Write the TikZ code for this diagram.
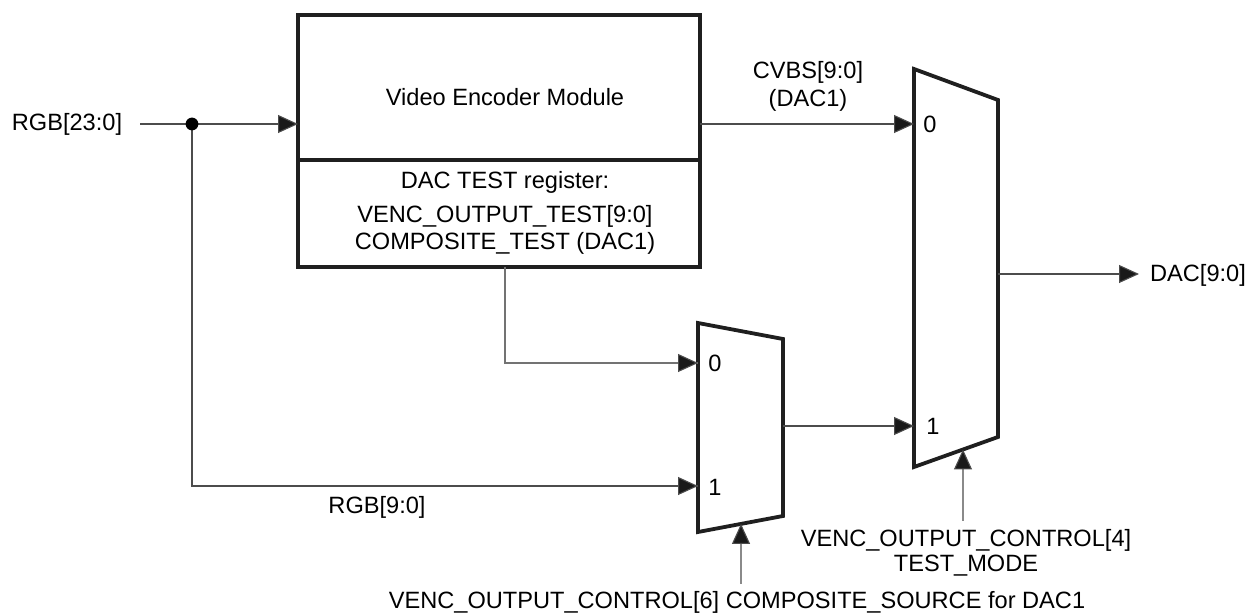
\documentclass[tikz,border=0pt]{standalone}
\usepackage{fontspec}
\setmainfont{Liberation Sans}
\usetikzlibrary{arrows.meta,calc}
\begin{document}
\begin{tikzpicture}[x=0.5pt,y=-0.5pt,
  lbl/.style={inner sep=0pt,font=\fontsize{11.8}{13.5}\selectfont},
  thick box/.style={line width=1.9pt,draw=black!88},
  sig/.style={line width=0.55pt,draw=black!70,-{Triangle[length=10pt,width=9pt,fill=black!90]}},
  wire/.style={line width=0.55pt,draw=black!70},
  wirelight/.style={line width=0.55pt,draw=black!55}]
\useasboundingbox (0,0) rectangle (1249,614);
% video encoder box
\coordinate (vtl) at (298,15);
\coordinate (vbr) at (700,267);
\coordinate (vdl) at (298,160);
\coordinate (vdr) at (700,160);
\draw[thick box] (vtl) rectangle (vbr);
\draw[thick box] (vdl) -- (vdr);
\node[lbl] (vname) at (505,97) {Video Encoder Module};
\node[lbl] (reg1) at (505,182) {DAC TEST register:};
\node[lbl] (reg2) at (505,216) {VENC\_OUTPUT\_TEST[9:0]};
\node[lbl] (reg3) at (505,243) {COMPOSITE\_TEST (DAC1)};
% big mux
\coordinate (m1tl) at (914,69);
\coordinate (m1tr) at (998,100);
\coordinate (m1br) at (998,437);
\coordinate (m1bl) at (914,467);
\draw[thick box,line join=miter] (m1tl) -- (m1tr) -- (m1br) -- (m1bl) -- cycle;
\node[lbl] (m1zero) at (930,124) {0};
\node[lbl] (m1one) at (933,426) {1};
% small mux
\coordinate (m2tl) at (698,323);
\coordinate (m2tr) at (783,339);
\coordinate (m2br) at (783,516);
\coordinate (m2bl) at (698,532);
\draw[thick box,line join=miter] (m2tl) -- (m2tr) -- (m2br) -- (m2bl) -- cycle;
\node[lbl] (m2zero) at (715,363) {0};
\node[lbl] (m2one) at (715,487) {1};
% labels
\node[lbl] (rgbin) at (67,124) {RGB[23:0]};
\node[lbl] (cvbs1) at (808,72) {CVBS[9:0]};
\node[lbl] (cvbs2) at (808,100) {(DAC1)};
\node[lbl] (dac) at (1198,275) {DAC[9:0]};
\node[lbl] (rgb9) at (377,507) {RGB[9:0]};
\node[lbl] (ctl4a) at (966,540) {VENC\_OUTPUT\_CONTROL[4]};
\node[lbl] (ctl4b) at (966,566) {TEST\_MODE};
\node[lbl] (ctl6) at (737,602) {VENC\_OUTPUT\_CONTROL[6] COMPOSITE\_SOURCE for DAC1};
% connection points
\coordinate (rgbstart) at (140,124);
\coordinate (vin) at (298,124);
\coordinate (split) at (192,124);
\coordinate (vout) at (700,124);
\coordinate (m1in0) at (914,124);
\coordinate (m1in1) at (914,426);
\coordinate (m1out) at (998,274);
\coordinate (dacend) at (1139,274);
\coordinate (vreg) at (505,267);
\coordinate (m2in0) at (698,363);
\coordinate (m2in1) at (698,486);
\coordinate (m2out) at (783,426);
\coordinate (c4start) at (963,521);
\coordinate (c4end) at ($(m1bl)!{(963-914)/84}!(m1br)$);
\coordinate (c6start) at (741,584);
\coordinate (c6end) at ($(m2bl)!{(741-698)/85}!(m2br)$);
% connectors
\draw[sig] (rgbstart) -- (vin);
\draw[wire] (split) |- (m2in1);
\draw[sig] ($(m2in1)+(-2,0)$) -- (m2in1);
\fill[black] (split) circle (3.2pt);
\draw[wirelight] (vreg) |- (m2in0);
\draw[sig] ($(m2in0)+(-2,0)$) -- (m2in0);
\draw[sig] (vout) -- (m1in0);
\draw[sig] (m2out) -- (m1in1);
\draw[sig] (m1out) -- (dacend);
\draw[sig] (c4start) -- (c4end);
\draw[sig] (c6start) -- (c6end);
\end{tikzpicture}
\end{document}
